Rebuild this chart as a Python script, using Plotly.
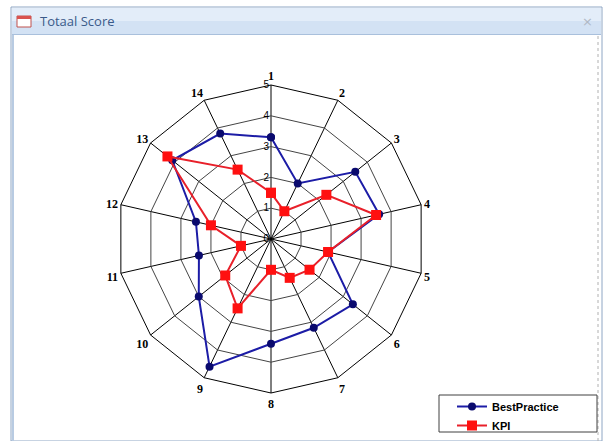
import plotly.graph_objects as go

categories = [str(i) for i in range(1, 15)]
best_practice = [3.3, 2.0, 3.5, 3.6, 1.9, 3.4, 3.2, 3.4, 4.6, 3.0, 2.4, 2.5, 4.1, 3.8]
kpi = [1.5, 1.0, 2.3, 3.5, 1.9, 1.6, 1.4, 1.0, 2.5, 1.9, 1.0, 2.0, 4.3, 2.5]
radial_ticks = [0, 1, 2, 3, 4, 5]

W, H = 605, 441

def px(x):
    return x / W

def py(y):
    return 1 - y / H

fig = go.Figure()

cats_closed = categories + [categories[0]]
fig.add_trace(go.Scatterpolar(
    r=best_practice + [best_practice[0]], theta=cats_closed, mode="lines+markers",
    name="BestPractice",
    line=dict(color="#1c1ca6", width=2),
    marker=dict(symbol="circle", size=8, color="#0a0a6e"),
))
fig.add_trace(go.Scatterpolar(
    r=kpi + [kpi[0]], theta=cats_closed, mode="lines+markers",
    name="KPI",
    line=dict(color="#e8202a", width=2),
    marker=dict(symbol="square", size=10, color="#ff1010"),
))

cx, cy, R = 271, 239, 154
shapes = [
    # window frame
    dict(type="rect", xref="paper", yref="paper", x0=px(11), x1=px(602), y0=py(441), y1=py(7),
         line=dict(color="#8ea6c4", width=1), fillcolor="#ffffff", layer="below"),
    dict(type="rect", xref="paper", yref="paper", x0=px(12), x1=px(601), y0=py(21), y1=py(8),
         line=dict(width=0), fillcolor="#e3edf9", layer="below"),
    dict(type="rect", xref="paper", yref="paper", x0=px(12), x1=px(601), y0=py(34), y1=py(21),
         line=dict(width=0), fillcolor="#d3e2f4", layer="below"),
    dict(type="line", xref="paper", yref="paper", x0=px(12), x1=px(601), y0=py(34.5), y1=py(34.5),
         line=dict(color="#a9c0dc", width=1), layer="below"),
    dict(type="line", xref="paper", yref="paper", x0=px(13), x1=px(13), y0=py(441), y1=py(35),
         line=dict(color="#b8cbe2", width=2), layer="below"),
    dict(type="line", xref="paper", yref="paper", x0=px(598), x1=px(598), y0=py(441), y1=py(35),
         line=dict(color="#b0b0b0", width=1, dash="dot"), layer="below"),
    # title icon
    dict(type="rect", xref="paper", yref="paper", x0=px(17), x1=px(31), y0=py(27), y1=py(16),
         line=dict(color="#c0504d", width=1), fillcolor="#ffffff", layer="above"),
    dict(type="rect", xref="paper", yref="paper", x0=px(17), x1=px(31), y0=py(19), y1=py(16),
         line=dict(width=0), fillcolor="#d9534f", layer="above"),
    # legend box
    dict(type="rect", xref="paper", yref="paper", x0=px(439), x1=px(597), y0=py(432), y1=py(395),
         line=dict(color="#404040", width=1), fillcolor="rgba(0,0,0,0)", layer="above"),
]

annotations = [
    dict(text="Totaal Score", x=px(38), y=py(21), xref="paper", yref="paper",
         xanchor="left", yanchor="middle", showarrow=False,
         font=dict(family="Open Sans, Noto Sans, sans-serif", size=13, color="#3a5a8a")),
    dict(text="×", x=px(587), y=py(21), xref="paper", yref="paper",
         xanchor="center", yanchor="middle", showarrow=False,
         font=dict(family="DejaVu Sans, sans-serif", size=13, color="#b0b8c4")),
]

fig.update_layout(
    width=W, height=H,
    margin=dict(l=0, r=0, t=0, b=0),
    paper_bgcolor="#ffffff",
    plot_bgcolor="#ffffff",
    showlegend=True,
    legend=dict(
        x=px(452), y=py(392), xanchor="left", yanchor="top",
        bgcolor="rgba(0,0,0,0)", borderwidth=0,
        font=dict(family="Liberation Sans, Arial, sans-serif", size=11, color="#000000", weight="bold"),
        itemwidth=30, tracegroupgap=0,
    ),
    shapes=shapes,
    annotations=annotations,
    polar=dict(
        domain=dict(x=[px(cx - R), px(cx + R)], y=[py(cy + R), py(cy - R)]),
        bgcolor="#ffffff",
        gridshape="linear",
        angularaxis=dict(
            categoryorder="array", categoryarray=categories,
            rotation=90, direction="clockwise",
            showline=True, linecolor="#000000", linewidth=1,
            showgrid=True, gridcolor="#000000", gridwidth=1,
            ticks="",
            tickfont=dict(family="Liberation Serif, Times New Roman, serif", size=12, color="#000000", weight="bold"),
        ),
        radialaxis=dict(
            range=[0, 5], tickvals=radial_ticks, ticktext=[str(t) for t in radial_ticks],
            angle=90, tickangle=90, side="counterclockwise",
            showline=False, showgrid=True, gridcolor="#444444", gridwidth=1,
            ticks="",
            tickfont=dict(family="Liberation Sans, Arial, sans-serif", size=10, color="#000000"),
        ),
    ),
)

fig.write_html("out.html", config={"displayModeBar": False},
               post_script="document.body.style.margin='0';")
